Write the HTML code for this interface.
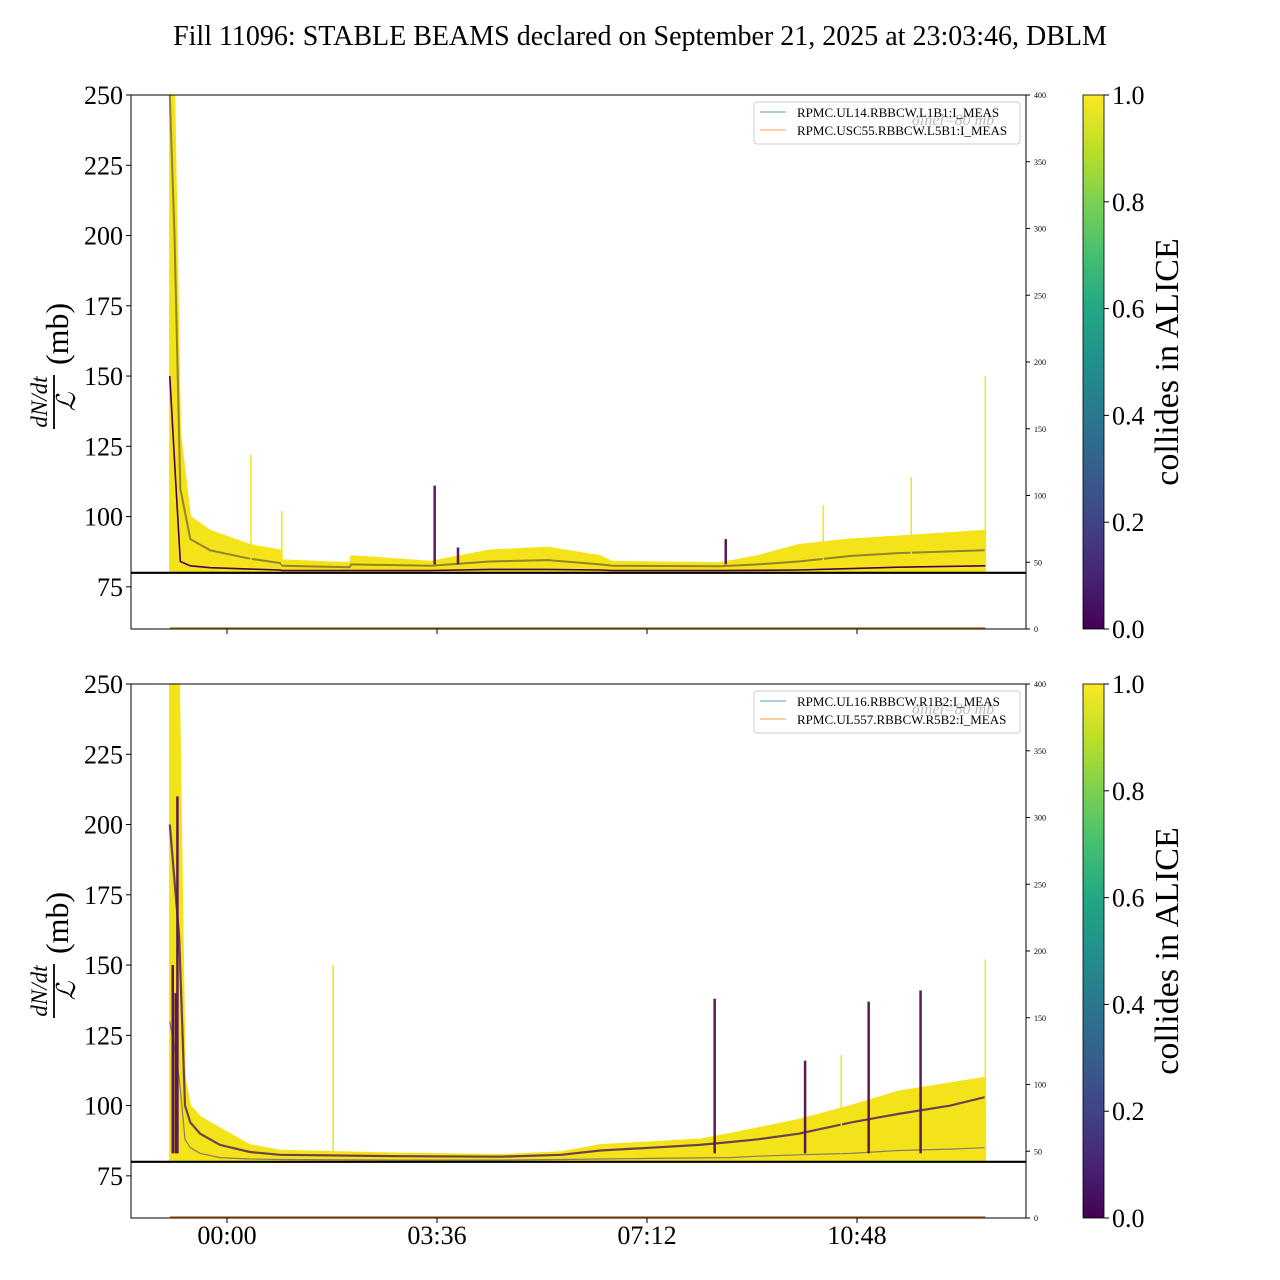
<!DOCTYPE html>
<html><head><meta charset="utf-8">
<style>
body{margin:0;background:#fff;}
svg{display:block;font-family:"Liberation Serif",serif;}
</style></head>
<body>
<svg id="chart" width="1280" height="1280" viewBox="0 0 1280 1280">
<defs>
<linearGradient id="viridis" x1="0" y1="1" x2="0" y2="0">
<stop offset="0" stop-color="#440154"/><stop offset="0.1" stop-color="#482475"/>
<stop offset="0.2" stop-color="#414487"/><stop offset="0.3" stop-color="#355f8d"/>
<stop offset="0.4" stop-color="#2a788e"/><stop offset="0.5" stop-color="#21918c"/>
<stop offset="0.6" stop-color="#22a884"/><stop offset="0.7" stop-color="#44bf70"/>
<stop offset="0.8" stop-color="#7ad151"/><stop offset="0.9" stop-color="#bddf26"/>
<stop offset="1" stop-color="#fde725"/>
</linearGradient>
</defs>
<text x="640" y="45" font-size="28" text-anchor="middle">Fill 11096: STABLE BEAMS declared on September 21, 2025 at 23:03:46, DBLM</text>
</svg>
<script>
// ---- data ----
const xTickLabels = ["00:00","03:36","07:12","10:48"];
const xTickHours = [0, 3.6, 7.2, 10.8];
const yTicks = [75,100,125,150,175,200,225,250];
const rightTicks = [0,50,100,150,200,250,300,350,400];
const cbTicks = [0.0,0.2,0.4,0.6,0.8,1.0];
const refLine = 80;
// top panel: envelope (hours, mb)
const topHours = [-0.98,-0.9,-0.8,-0.63,-0.29,0.39,0.91,0.95,2.1,2.13,3.5,4.5,5.5,6.4,6.6,8.45,9.1,9.8,10.7,11.5,13.0];
const topUpper = [250,250,130,100,95,90,88,84.5,83.5,86,84,88,89,86,84,83.5,86,90,92,93,95];
const topMid = [250,200,110,92,88,85,83.5,82.5,82,83,82.5,84,84.5,83,82.5,82.3,83,84,86,87,88];
const topLower = [150,120,84,82.5,81.8,81.3,81,80.8,80.8,80.8,80.8,81.2,81.2,81,80.8,80.8,80.9,81,81.5,82,82.5];
const topSpikeH = [0.41,0.94,3.56,3.96,8.55,10.22,11.73,13.0];
const topSpikeV = [122,102,111,89,92,104,114,150];
const topSpikeDark = [0,0,1,1,1,0,0,0];
// bottom panel
const botHours = [-0.98,-0.82,-0.72,-0.63,-0.46,-0.12,0.39,0.91,2.97,4.7,5.73,6.4,7.27,8.1,8.62,9.1,9.8,10.7,11.5,12.4,13.0];
const botUpper = [250,250,110,100,96,92,86,84,83,82.5,83.5,86,87,88,90,92,95,100,105,108,110];
const botMid = [200,160,100,94,90,86,83.5,82.5,82,81.8,82.5,84,85,86,87,88,90,94,97,100,103];
const botLower = [130,110,88,85,83,81.5,81,80.8,80.6,80.6,80.8,81,81.2,81.4,81.5,82,82.5,83,84,84.5,85];
const botSpikeH = [-0.93,-0.88,-0.85,1.82,8.36,9.91,10.53,11.0,11.89,13.0];
const botSpikeV = [150,140,210,150,138,116,118,137,141,152];
const botSpikeDark = [1,1,1,0,1,1,0,1,1,0];

// ---- scales ----
const X0=131,X1=1026;
function xs(h){return 227+h*210/3.6;}
function panelY(top){return v=>top+(250-v)*534/190;}
const NS="http://www.w3.org/2000/svg";
const svg=document.getElementById('chart');
function el(tag,attrs,parent){const e=document.createElementNS(NS,tag);for(const k in attrs)e.setAttribute(k,attrs[k]);(parent||svg).appendChild(e);return e;}

function drawPanel(top,hours,upper,mid,lower,spH,spV,spD,leg1,leg2,pname,midColor,midW,lowColor,lowW){
  const ys=panelY(top);
  const g=el('g',{});
  
  
  const clip=el('clipPath',{id:'clip'+top},g);
  el('rect',{x:X0,y:top,width:X1-X0,height:534},clip);
  const dg=el('g',{'clip-path':'url(#clip'+top+')'},g);
  let d='M'+xs(hours[0])+','+ys(refLine);
  hours.forEach((h,i)=>{d+=' L'+xs(h).toFixed(1)+','+ys(upper[i]).toFixed(1);});
  d+=' L'+xs(hours[hours.length-1])+','+ys(refLine)+'Z';
  const band=el('path',{d:d,fill:'#f5e31a',stroke:'#f5e31a','stroke-width':1.5},dg);
  
  
  let dm='';hours.forEach((h,i)=>{dm+=(i?' L':'M')+xs(h).toFixed(1)+','+ys(mid[i]).toFixed(1);});
  const ml=el('path',{d:dm,fill:'none',stroke:midColor,'stroke-width':midW,opacity:0.8},dg);
  
  
  let dl='';hours.forEach((h,i)=>{dl+=(i?' L':'M')+xs(h).toFixed(1)+','+ys(lower[i]).toFixed(1);});
  const ll=el('path',{d:dl,fill:'none',stroke:lowColor,'stroke-width':lowW},dg);
  
  
  spH.forEach((h,i)=>{
    const s=el('line',{x1:xs(h),x2:xs(h),y1:ys(83),y2:ys(spV[i]),stroke:spD[i]?'#5a1a5a':'#f5e31a','stroke-width':spD[i]?2.5:1.5},dg);
    
    
  });
  el('line',{x1:xs(hours[0]),x2:xs(hours[hours.length-1]),y1:top+533,y2:top+533,stroke:'#c07830','stroke-width':1.5},dg);
  const rl=el('line',{x1:X0,x2:X1,y1:ys(refLine),y2:ys(refLine),stroke:'#000','stroke-width':2.2},g);
  
  
  el('rect',{x:X0,y:top,width:X1-X0,height:534,fill:'none',stroke:'#000','stroke-width':1},g);
  yTicks.forEach(v=>{
    el('line',{x1:X0-5,x2:X0,y1:ys(v),y2:ys(v),stroke:'#000'},g);
    const t=el('text',{x:X0-8,y:ys(v)+9,'font-size':26,'text-anchor':'end'},g);t.textContent=v;
    
    
  });
  rightTicks.forEach(v=>{
    const y=top+534-v/400*534;
    el('line',{x1:X1,x2:X1+4,y1:y,y2:y,stroke:'#000'},g);
    const t=el('text',{x:X1+8,y:y+3,'font-size':8},g);t.textContent=v;
    
    
  });
  xTickHours.forEach(h=>{el('line',{x1:xs(h),x2:xs(h),y1:top+534,y2:top+539,stroke:'#000'},g);});
  const yl=el('g',{transform:'translate(58,'+(top+267)+') rotate(-90)'},g);
  
  
  let t1=el('text',{x:-40,y:-11,'font-size':23,'font-style':'italic','text-anchor':'middle'},yl);t1.textContent='dN/dt';
  el('line',{x1:-67,x2:-13,y1:-4,y2:-4,stroke:'#000','stroke-width':1.8},yl);
  let t2=el('text',{x:-40,y:17,'font-size':26,'font-style':'italic','text-anchor':'middle'},yl);t2.textContent='ℒ';
  let t3=el('text',{x:-3,y:10,'font-size':32},yl);t3.textContent='(mb)';
  const lg=el('g',{},g);
  
  
  el('rect',{x:754,y:top+7,width:266,height:42,rx:3,fill:'#fff',stroke:'#ccc'},lg);
  el('line',{x1:760,x2:786,y1:top+17,y2:top+17,stroke:'#1f77b4','stroke-width':0.8},lg);
  el('line',{x1:760,x2:786,y1:top+35,y2:top+35,stroke:'#ff7f0e','stroke-width':0.8},lg);
  let c=el('text',{x:912,y:top+30,'font-size':16,fill:'#bbb','font-style':'italic'},lg);c.textContent='σinel=80 mb';
  let a=el('text',{x:797,y:top+22,'font-size':13},lg);a.textContent=leg1;
  let b=el('text',{x:797,y:top+40,'font-size':13},lg);b.textContent=leg2;
  const cb=el('g',{},g);
  
  
  el('rect',{x:1083,y:top,width:21,height:534,fill:'url(#viridis)',stroke:'#000','stroke-width':0.8},cb);
  cbTicks.forEach(v=>{
    const y=top+534-v*534;
    el('line',{x1:1104,x2:1109,y1:y,y2:y,stroke:'#000'},cb);
    const t=el('text',{x:1112,y:y+9,'font-size':26},cb);t.textContent=v.toFixed(1);
  });
  const cl=el('text',{transform:'translate(1178,'+(top+267)+') rotate(-90)','font-size':34,'text-anchor':'middle'},cb);cl.textContent='collides in ALICE';
}
drawPanel(95,topHours,topUpper,topMid,topLower,topSpikeH,topSpikeV,topSpikeDark,'RPMC.UL14.RBBCW.L1B1:I_MEAS','RPMC.USC55.RBBCW.L5B1:I_MEAS','top-panel','#7a6a30',2,'#440154',1.6);
drawPanel(684,botHours,botUpper,botMid,botLower,botSpikeH,botSpikeV,botSpikeDark,'RPMC.UL16.RBBCW.R1B2:I_MEAS','RPMC.UL557.RBBCW.R5B2:I_MEAS','bottom-panel','#4a1a5a',2.2,'#8a7a6a',1.2);
xTickHours.forEach((h,i)=>{
  const t=el('text',{x:xs(h),y:1244,'font-size':26,'text-anchor':'middle'});
  t.textContent=xTickLabels[i];
  
  
});
</script>
</body></html>
